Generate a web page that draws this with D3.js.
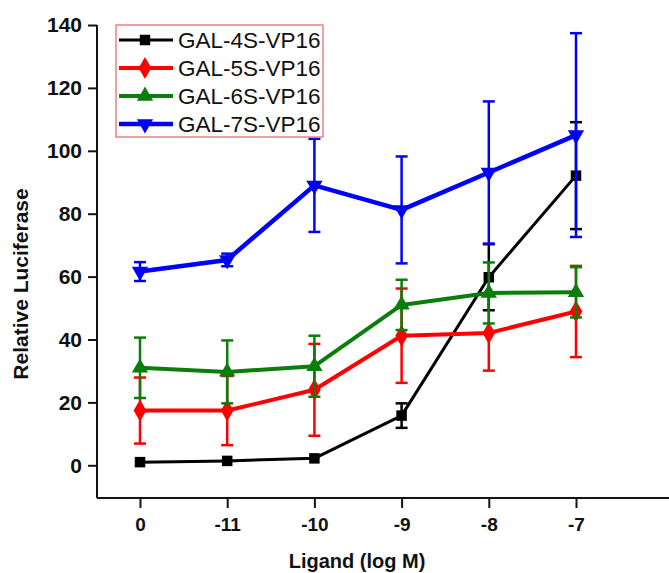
<!DOCTYPE html>
<html>
<head>
<meta charset="utf-8">
<script src="https://cdn.jsdelivr.net/npm/d3@7"></script>
<style>
  html, body { margin: 0; padding: 0; background: #fff; }
  svg { display: block; font-family: Arial, "Liberation Sans", sans-serif; }
</style>
</head>
<body>
<svg id="chart" width="669" height="573"></svg>
<script>
// Ligand concentrations on the x axis
const categories = ["0", "-11", "-10", "-9", "-8", "-7"];

// Mean relative luciferase per construct
const gal4S = [1.0, 1.4, 2.2, 15.8, 59.8, 92.1];
const gal5S = [17.4, 17.4, 24.0, 41.2, 42.1, 48.9];
const gal6S = [31.0, 29.7, 31.5, 51.0, 54.8, 55.0];
const gal7S = [61.6, 65.3, 89.0, 81.2, 93.1, 105.0];

// Error bar half-widths (SD)
const gal4SErr = [0, 0, 0, 3.9, 10.5, 17.0];
const gal5SErr = [10.5, 11.0, 14.6, 15.0, 12.0, 14.5];
const gal6SErr = [9.6, 10.0, 9.7, 8.0, 9.7, 8.0];
const gal7SErr = [3.0, 2.0, 14.8, 17.0, 22.6, 32.4];

const seriesNames = ["GAL-4S-VP16", "GAL-5S-VP16", "GAL-6S-VP16", "GAL-7S-VP16"];
const yTicks = [0, 20, 40, 60, 80, 100, 120, 140];

const series = [
  { name: seriesNames[0], values: gal4S, err: gal4SErr, color: "#000000", symbol: d3.symbolSquare, size: 110, lw: 3 },
  { name: seriesNames[1], values: gal5S, err: gal5SErr, color: "#ff0000", symbol: d3.symbolDiamond, size: 140, lw: 4 },
  { name: seriesNames[2], values: gal6S, err: gal6SErr, color: "#0a7d0a", symbol: d3.symbolTriangle, size: 115, lw: 4 },
  { name: seriesNames[3], values: gal7S, err: gal7SErr, color: "#0000ff", symbol: d3.symbolTriangle, size: 115, lw: 4.5, flip: true }
];

const svg = d3.select("#chart");
const axisLeft = 97, axisRight = 669, axisTop = 25, axisBottom = 498;

const x = d3.scalePoint().domain(categories).range([140, 576]);
const y = d3.scaleLinear().domain([-10.4, 140]).range([axisBottom, axisTop]);

const axisColor = "#1a1010";

// Y axis
const yAxis = svg.append("g").attr("transform", `translate(${axisLeft},0)`)
  .call(d3.axisLeft(y).tickValues(yTicks).tickSize(9).tickPadding(6).tickSizeOuter(0));
yAxis.select(".domain").remove();
yAxis.append("line").attr("x1", 0).attr("x2", 0).attr("y1", axisTop).attr("y2", axisBottom)
  .attr("stroke", axisColor).attr("stroke-width", 2);
yAxis.selectAll(".tick line").attr("stroke", axisColor).attr("stroke-width", 2);
yAxis.selectAll(".tick text").attr("font-size", 21).attr("font-weight", "bold")
  .attr("fill", "#111").attr("font-family", "Arial, 'Liberation Sans', sans-serif");

// X axis
const xAxis = svg.append("g").attr("transform", `translate(0,${axisBottom})`)
  .call(d3.axisBottom(x).tickSize(10).tickPadding(10).tickSizeOuter(0));
xAxis.select(".domain").remove();
xAxis.append("line").attr("x1", axisLeft).attr("x2", axisRight).attr("y1", 0).attr("y2", 0)
  .attr("stroke", axisColor).attr("stroke-width", 2);
xAxis.selectAll(".tick line").attr("stroke", axisColor).attr("stroke-width", 2);
xAxis.selectAll(".tick text").attr("font-size", 19).attr("font-weight", "bold")
  .attr("fill", "#111").attr("font-family", "Arial, 'Liberation Sans', sans-serif");

// Axis titles
svg.append("text").attr("x", 357).attr("y", 568).attr("text-anchor", "middle")
  .attr("font-size", 20).attr("font-weight", "bold").attr("fill", "#111")
  .text("Ligand (log M)");
svg.append("text").attr("transform", "translate(28,284) rotate(-90)").attr("text-anchor", "middle")
  .attr("font-size", 21).attr("font-weight", "bold").attr("fill", "#111")
  .text("Relative Luciferase");

// Series: error bars, lines, markers
const line = d3.line().x((d, i) => x(categories[i])).y(d => y(d));
const capHalf = 6;

series.forEach(s => {
  const g = svg.append("g");
  const pts = s.values.map((v, i) => ({ cx: x(categories[i]), v, e: s.err[i] }));
  const eb = g.append("g").attr("stroke", s.color).attr("stroke-width", 2.5);
  pts.filter(p => p.e > 0).forEach(p => {
    eb.append("line").attr("x1", p.cx).attr("x2", p.cx).attr("y1", y(p.v + p.e)).attr("y2", y(p.v - p.e));
    eb.append("line").attr("x1", p.cx - capHalf).attr("x2", p.cx + capHalf).attr("y1", y(p.v + p.e)).attr("y2", y(p.v + p.e));
    eb.append("line").attr("x1", p.cx - capHalf).attr("x2", p.cx + capHalf).attr("y1", y(p.v - p.e)).attr("y2", y(p.v - p.e));
  });
  g.append("path").datum(s.values).attr("d", line).attr("fill", "none")
    .attr("stroke", s.color).attr("stroke-width", s.lw).attr("stroke-linejoin", "round");
  g.selectAll(".m").data(pts).enter().append("path")
    .attr("d", d3.symbol().type(s.symbol).size(s.size))
    .attr("transform", p => `translate(${p.cx},${y(p.v)})${s.flip ? " rotate(180)" : ""}`)
    .attr("fill", s.color);
});

// Legend
const legend = svg.append("g");
legend.append("rect").attr("x", 116).attr("y", 25).attr("width", 207).attr("height", 112)
  .attr("fill", "#fff").attr("stroke", "#f08080").attr("stroke-width", 1.5);
const rowY = [40, 68, 96, 124];
series.forEach((s, i) => {
  const r = legend.append("g").attr("transform", `translate(0,${rowY[i]})`);
  r.append("line").attr("x1", 119).attr("x2", 173).attr("y1", 0).attr("y2", 0)
    .attr("stroke", s.color).attr("stroke-width", s.lw);
  r.append("path").attr("d", d3.symbol().type(s.symbol).size(s.size))
    .attr("transform", `translate(145,0)${s.flip ? " rotate(180)" : ""}`).attr("fill", s.color);
  r.append("text").attr("x", 178).attr("y", 8).attr("font-size", 22.5).attr("fill", "#111")
    .text(s.name);
});
</script>
</body>
</html>
